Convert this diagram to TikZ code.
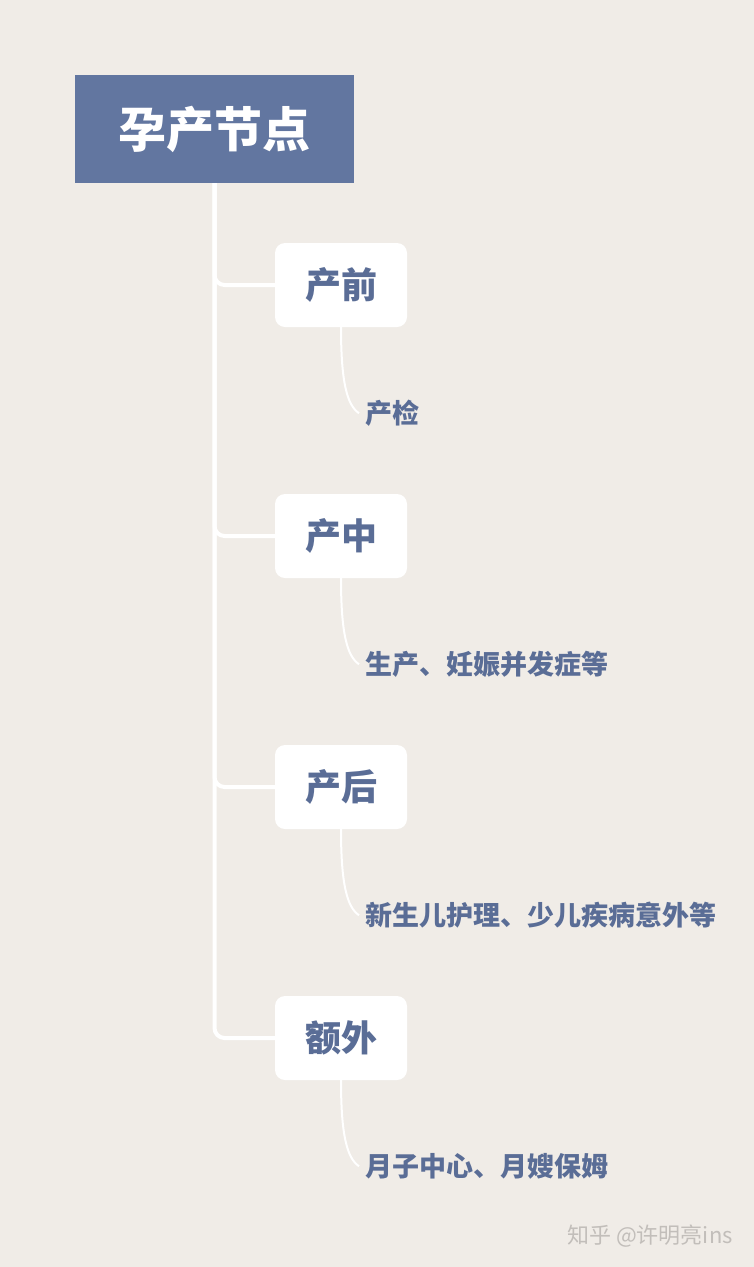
\documentclass[tikz,border=0pt]{standalone}
\usepackage{fontspec}
\setmainfont{Noto Sans CJK SC}
\usetikzlibrary{positioning}
\definecolor{bgpaper}{HTML}{F0ECE7}
\definecolor{slate}{HTML}{6276A0}
\definecolor{slatetext}{HTML}{5A6D96}
\definecolor{marktext}{HTML}{C2BEBA}

\begin{document}
\begin{tikzpicture}[x=1pt,y=1pt,node distance=251pt,
    root/.style={fill=slate,text=white,font=\fontsize{48}{48}\selectfont\bfseries,
      minimum width=279pt,minimum height=108pt,inner sep=0pt},
    stage/.style={fill=white,rounded corners=10pt,text=slatetext,
      font=\fontsize{36}{36}\selectfont\bfseries,
      minimum width=132pt,minimum height=84pt,inner sep=0pt},
    leaf/.style={text=slatetext,font=\fontsize{27}{27}\selectfont\bfseries,
      inner sep=0pt,anchor=west},
    trunk/.style={draw=white,line width=4pt,rounded corners=10pt},
    twig/.style={draw=white,line width=2pt},
    credit/.style={text=marktext,font=\fontsize{22}{22}\selectfont,inner sep=0pt}]

  \useasboundingbox (0,0) rectangle (754,-1267);
  \fill[bgpaper] (0,0) rectangle (754,-1267);

  \node[root] (root) at (214.5,-129) {孕产节点};

  \node[stage] (pre)  at (341,-285)      {产前};
  \node[stage] (mid)  [below of=pre]     {产中};
  \node[stage] (post) [below of=mid]     {产后};
  \node[stage] (xtra) [below of=post]    {额外};

  \node[leaf] (l1) at ([xshift=24pt,yshift=-86pt]pre.south)  {产检};
  \node[leaf] (l2) at ([xshift=24pt,yshift=-86pt]mid.south)  {生产、妊娠并发症等};
  \node[leaf] (l3) at ([xshift=24pt,yshift=-86pt]post.south) {新生儿护理、少儿疾病意外等};
  \node[leaf] (l4) at ([xshift=24pt,yshift=-86pt]xtra.south) {月子中心、月嫂保姆};

  \foreach \s in {pre,mid,post,xtra}
    \draw[trunk] (root.south) |- (\s.west);

  \foreach \s/\l in {pre/l1,mid/l2,post/l3,xtra/l4}
    \draw[twig] (\s.south) .. controls +(0,-55) and +(-12,8) .. ([xshift=-6pt]\l.west);

  \node[credit] (zhihu) at (650,-1236) {知乎 @许明亮ins};

\end{tikzpicture}
\end{document}
